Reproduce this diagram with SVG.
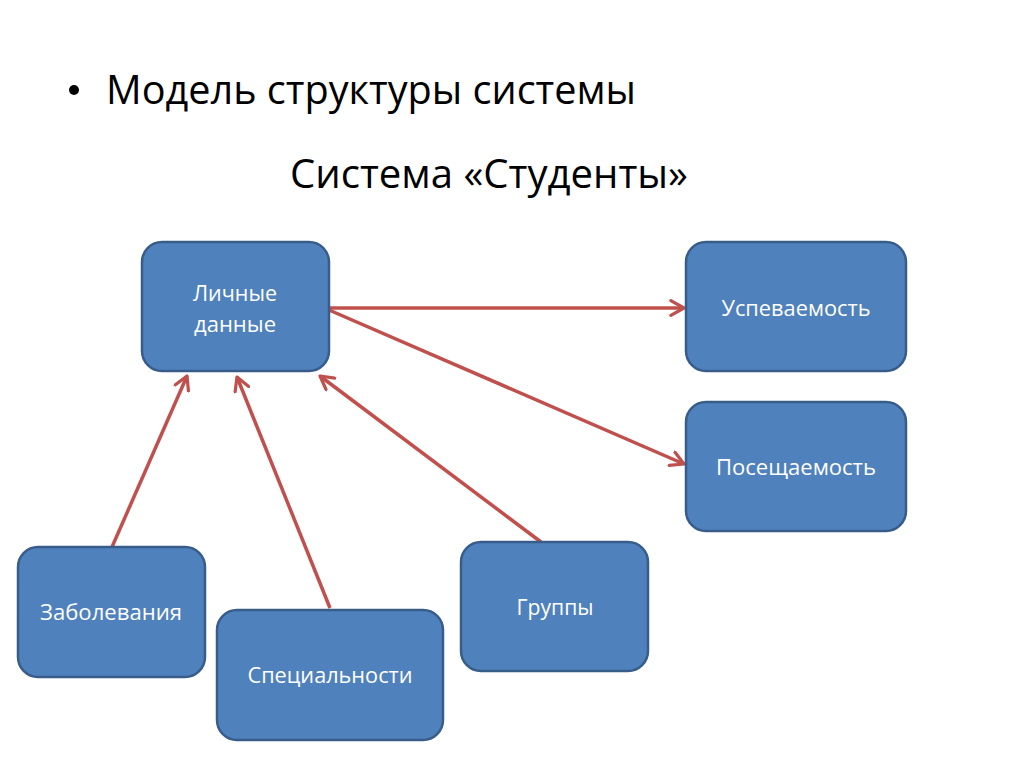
<svg xmlns="http://www.w3.org/2000/svg" width="1024" height="767" viewBox="0 0 1024 767">
<defs>
<style>
.node rect{fill:#4F81BD;stroke:#385D8A;stroke-width:2.5}
.node text{fill:#fff;font-family:"Open Sans","Noto Sans","Liberation Sans",sans-serif;font-size:21px;text-anchor:middle}
.title{fill:#000;font-family:"Open Sans","Noto Sans","Liberation Sans",sans-serif}
.conn line{stroke:#C0504D;stroke-width:3.5;marker-end:url(#ah)}
</style>
<marker id="ah" viewBox="0 0 12 12" refX="10" refY="6" markerWidth="5" markerHeight="5" orient="auto" markerUnits="strokeWidth">
<path d="M1,1 L10,6 L1,11" fill="none" stroke="#C0504D" stroke-width="2.2" stroke-linecap="round" stroke-linejoin="round"/>
</marker>
</defs>
<rect width="1024" height="767" fill="#fff"/>
<g id="titles">
<circle cx="74" cy="90" r="5" fill="#000"/>
<text class="title" x="106" y="104" font-size="40" textLength="530" lengthAdjust="spacingAndGlyphs">Модель структуры системы</text>
<text class="title" x="290" y="188" font-size="40" textLength="398" lengthAdjust="spacingAndGlyphs">Система «Студенты»</text>
</g>
<g id="connectors" class="conn">
<line x1="329" y1="308" x2="684" y2="308"/>
<line x1="329" y1="310" x2="684" y2="464"/>
<line x1="112" y1="547" x2="187" y2="376"/>
<line x1="330" y1="608" x2="237" y2="377"/>
<line x1="541" y1="542" x2="320" y2="376"/>
</g>
<g id="lichnye" class="node">
<rect x="142" y="242" width="187" height="129" rx="20"/>
<text x="235" y="301" textLength="84" lengthAdjust="spacingAndGlyphs">Личные</text>
<text x="235" y="332" textLength="82" lengthAdjust="spacingAndGlyphs">данные</text>
</g>
<g id="uspevaemost" class="node">
<rect x="686" y="242" width="220" height="129" rx="20"/>
<text x="796" y="316" textLength="149" lengthAdjust="spacingAndGlyphs">Успеваемость</text>
</g>
<g id="poseshchaemost" class="node">
<rect x="686" y="402" width="220" height="129" rx="20"/>
<text x="796" y="475" textLength="160" lengthAdjust="spacingAndGlyphs">Посещаемость</text>
</g>
<g id="zabolevaniya" class="node">
<rect x="18" y="547" width="187" height="130" rx="20"/>
<text x="111" y="620" textLength="142" lengthAdjust="spacingAndGlyphs">Заболевания</text>
</g>
<g id="specialnosti" class="node">
<rect x="217" y="610" width="226" height="130" rx="20"/>
<text x="330" y="683" textLength="165" lengthAdjust="spacingAndGlyphs">Специальности</text>
</g>
<g id="gruppy" class="node">
<rect x="461" y="542" width="187" height="129" rx="20"/>
<text x="555" y="615" textLength="77" lengthAdjust="spacingAndGlyphs">Группы</text>
</g>
</svg>
